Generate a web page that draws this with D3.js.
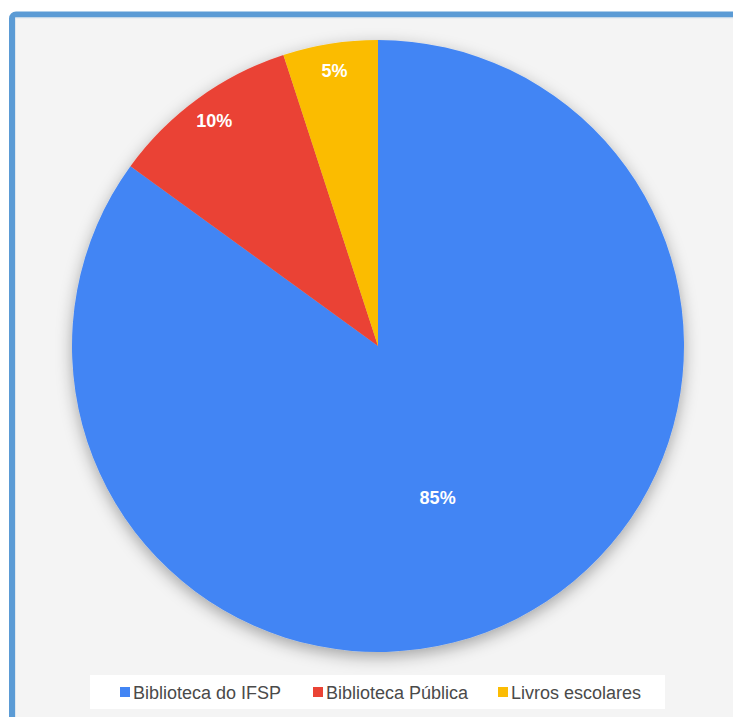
<!DOCTYPE html>
<html lang="pt">
  <head>
    <meta charset="UTF-8" />
    <title>Pie</title>
    <script src="https://d3js.org/d3.v7.min.js"></script>
    <style>
      * {
        margin: 0;
        padding: 0;
      }
      body {
        background: #fff;
        overflow: hidden;
      }
      text {
        font-family: "Liberation Sans", Arial, sans-serif;
      }
      .slice-label {
        font-size: 18px;
        font-weight: bold;
        fill: #fff;
      }
      .legend-label {
        font-size: 18px;
        fill: #4a4a4a;
      }
    </style>
  </head>
  <body>
    <script>
      // dados
      const categories = ["Biblioteca do IFSP", "Biblioteca Pública", "Livros escolares"];
      const values = [85, 10, 5];
      const colors = ["#4285f4", "#ea4335", "#fbbc04"];

      const w = 733;
      const h = 717;

      const svg = d3
        .select("body")
        .append("svg")
        .attr("width", w)
        .attr("height", h);

      const defs = svg.append("defs");
      defs
        .append("filter")
        .attr("id", "shadow")
        .attr("x", "-20%")
        .attr("y", "-20%")
        .attr("width", "140%")
        .attr("height", "140%")
        .append("feDropShadow")
        .attr("dx", 0)
        .attr("dy", 5)
        .attr("stdDeviation", 8)
        .attr("flood-color", "#000")
        .attr("flood-opacity", 0.33);

      // fundo + moldura azul
      svg
        .append("rect")
        .attr("x", 12)
        .attr("y", 14.5)
        .attr("width", w + 40)
        .attr("height", h + 40)
        .attr("rx", 4)
        .attr("fill", "#f4f4f4")
        .attr("stroke", "#5b9bd5")
        .attr("stroke-width", 6);

      svg
        .append("rect")
        .attr("x", 15.5)
        .attr("y", 18)
        .attr("width", w + 40)
        .attr("height", h + 40)
        .attr("fill", "none")
        .attr("stroke", "#dde6ee")
        .attr("stroke-width", 1);

      // pizza
      const cx = 378;
      const cy = 346;
      const r = 306;

      const pie = d3.pie().sort(null).value((d) => d);
      const arcs = pie(values);
      const arc = d3.arc().innerRadius(0).outerRadius(r);

      const g = svg.append("g").attr("transform", `translate(${cx},${cy})`);

      g.append("g")
        .attr("filter", "url(#shadow)")
        .selectAll("path")
        .data(arcs)
        .join("path")
        .attr("d", arc)
        .attr("fill", (d, i) => colors[i]);

      // rótulos
      const labelArc = (d) => {
        const k = d.endAngle - d.startAngle > Math.PI ? 0.53 : 0.91;
        return d3.arc().innerRadius(r * k).outerRadius(r * k).centroid(d);
      };

      g.selectAll(".slice-label")
        .data(arcs)
        .join("text")
        .attr("class", "slice-label")
        .attr("text-anchor", "middle")
        .attr("dominant-baseline", "central")
        .attr("x", (d) => labelArc(d)[0] - (d.data > 50 ? 14 : 0))
        .attr("y", (d) => labelArc(d)[1] + (d.data > 50 ? 7 : 0))
        .text((d) => d.data + "%");

      // legenda
      svg
        .append("rect")
        .attr("x", 90)
        .attr("y", 675)
        .attr("width", 575)
        .attr("height", 34)
        .attr("fill", "#fff");

      const legendX = [120, 313, 498];
      const legend = svg
        .selectAll(".legend")
        .data(categories)
        .join("g")
        .attr("class", "legend")
        .attr("transform", (d, i) => `translate(${legendX[i]},692)`);

      legend
        .append("rect")
        .attr("x", 0)
        .attr("y", -5)
        .attr("width", 10)
        .attr("height", 10)
        .attr("fill", (d, i) => colors[i]);

      legend
        .append("text")
        .attr("class", "legend-label")
        .attr("x", 13)
        .attr("y", 7)
        .text((d) => d);
    </script>
  </body>
</html>
